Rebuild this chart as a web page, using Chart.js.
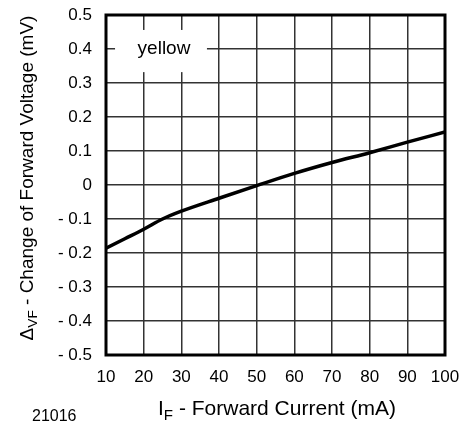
<!DOCTYPE html>
<html>
<head>
<meta charset="utf-8">
<script src="https://cdn.jsdelivr.net/npm/chart.js@4"></script>
<style>
  html, body { margin: 0; padding: 0; background: #fff; }
  #wrap { width: 464px; height: 424px; }
</style>
</head>
<body>
<div id="wrap"><canvas id="vfChart"></canvas></div>
<script>
// ข้อมูลกราฟ (อ่านจากภาพ)
const currents = [10, 15, 20, 25, 30, 40, 50, 60, 70, 80, 90, 100];
const deltaVF = [-0.186, -0.158, -0.130, -0.100, -0.077, -0.039, -0.002, 0.034, 0.066, 0.095, 0.126, 0.156];
const xTickLabels = ["10", "20", "30", "40", "50", "60", "70", "80", "90", "100"];
const yTickLabels = ["- 0.5", "- 0.4", "- 0.3", "- 0.2", "- 0.1", "0", "0.1", "0.2", "0.3", "0.4", "0.5"];
const seriesName = "yellow";
const figureId = "21016";

const FONT = "'Liberation Sans', Arial, Helvetica, sans-serif";

// วาดข้อความที่มีตัวห้อย
function drawSubText(ctx, parts, size) {
  let w = 0;
  parts.forEach(p => {
    ctx.font = (p.sub ? size * 0.72 : size) + "px " + FONT;
    w += ctx.measureText(p.t).width;
  });
  let x = -w / 2;
  parts.forEach(p => {
    ctx.font = (p.sub ? size * 0.72 : size) + "px " + FONT;
    ctx.fillText(p.t, x, p.sub ? size * 0.22 : 0);
    x += ctx.measureText(p.t).width;
  });
}

// ตัด padding ของสเกลออก ให้พื้นที่กราฟตรงตามที่กำหนด
function fixScale(size) {
  return s => {
    if (s.isHorizontal()) s.height = size; else s.width = size;
    s.paddingTop = 0;
    s.paddingBottom = 0;
    s.paddingLeft = 0;
    s.paddingRight = 0;
  };
}

const decorPlugin = {
  id: "decor",
  beforeDatasetsDraw(chart) {
    const { ctx, scales } = chart;
    const x = scales.x, y = scales.y;
    // กล่องชื่อซีรีส์
    const l = x.getPixelForValue(12.4), r = x.getPixelForValue(36.8);
    const t = y.getPixelForValue(0.456), b = y.getPixelForValue(0.332);
    ctx.save();
    ctx.fillStyle = "#fff";
    ctx.fillRect(l, t, r - l, b - t);
    ctx.fillStyle = "#000";
    ctx.font = "19px " + FONT;
    ctx.textAlign = "center";
    ctx.textBaseline = "middle";
    ctx.fillText(seriesName, x.getPixelForValue(25.4), y.getPixelForValue(0.4));
    ctx.restore();
  },
  afterDraw(chart) {
    const { ctx, chartArea: a } = chart;
    ctx.save();
    ctx.strokeStyle = "#000";
    ctx.lineWidth = 3;
    ctx.strokeRect(a.left, a.top, a.right - a.left, a.bottom - a.top);

    ctx.fillStyle = "#000";
    ctx.textBaseline = "alphabetic";
    // ชื่อแกน X
    ctx.save();
    ctx.translate(277, 415);
    drawSubText(ctx, [{ t: "I" }, { t: "F", sub: true }, { t: " - Forward Current (mA)" }], 21);
    ctx.restore();
    // ชื่อแกน Y
    ctx.save();
    ctx.translate(33, 178);
    ctx.rotate(-Math.PI / 2);
    drawSubText(ctx, [{ t: "\u0394" }, { t: "VF", sub: true }, { t: " - Change of Forward Voltage (mV)" }], 19);
    ctx.restore();
    // รหัสรูป
    ctx.font = "16px " + FONT;
    ctx.textAlign = "left";
    ctx.fillText(figureId, 32, 421);
    ctx.restore();
  }
};

new Chart(document.getElementById("vfChart"), {
  type: "line",
  data: {
    datasets: [{
      label: seriesName,
      data: currents.map((c, i) => ({ x: c, y: deltaVF[i] })),
      borderColor: "#000",
      borderWidth: 3.5,
      pointRadius: 0,
      cubicInterpolationMode: "monotone",
      fill: false
    }]
  },
  options: {
    responsive: true,
    maintainAspectRatio: false,
    animation: false,
    layout: { padding: { left: 0, right: 19, top: 15, bottom: 0 } },
    plugins: { legend: { display: false }, tooltip: { enabled: false } },
    scales: {
      x: {
        type: "linear",
        min: 10,
        max: 100,
        afterFit: fixScale(69),
        ticks: {
          stepSize: 10,
          color: "#000",
          padding: 12,
          maxRotation: 0,
          font: { family: FONT, size: 17 },
          callback: (v, i) => xTickLabels[i]
        },
        grid: { color: "#333", lineWidth: 1.5, drawTicks: false },
        border: { display: false }
      },
      y: {
        min: -0.5,
        max: 0.5,
        afterFit: fixScale(106),
        ticks: {
          stepSize: 0.1,
          color: "#000",
          padding: 14,
          font: { family: FONT, size: 17 },
          callback: (v, i) => yTickLabels[i]
        },
        grid: { color: "#333", lineWidth: 1.5, drawTicks: false },
        border: { display: false }
      }
    }
  },
  plugins: [decorPlugin]
});
</script>
</body>
</html>
